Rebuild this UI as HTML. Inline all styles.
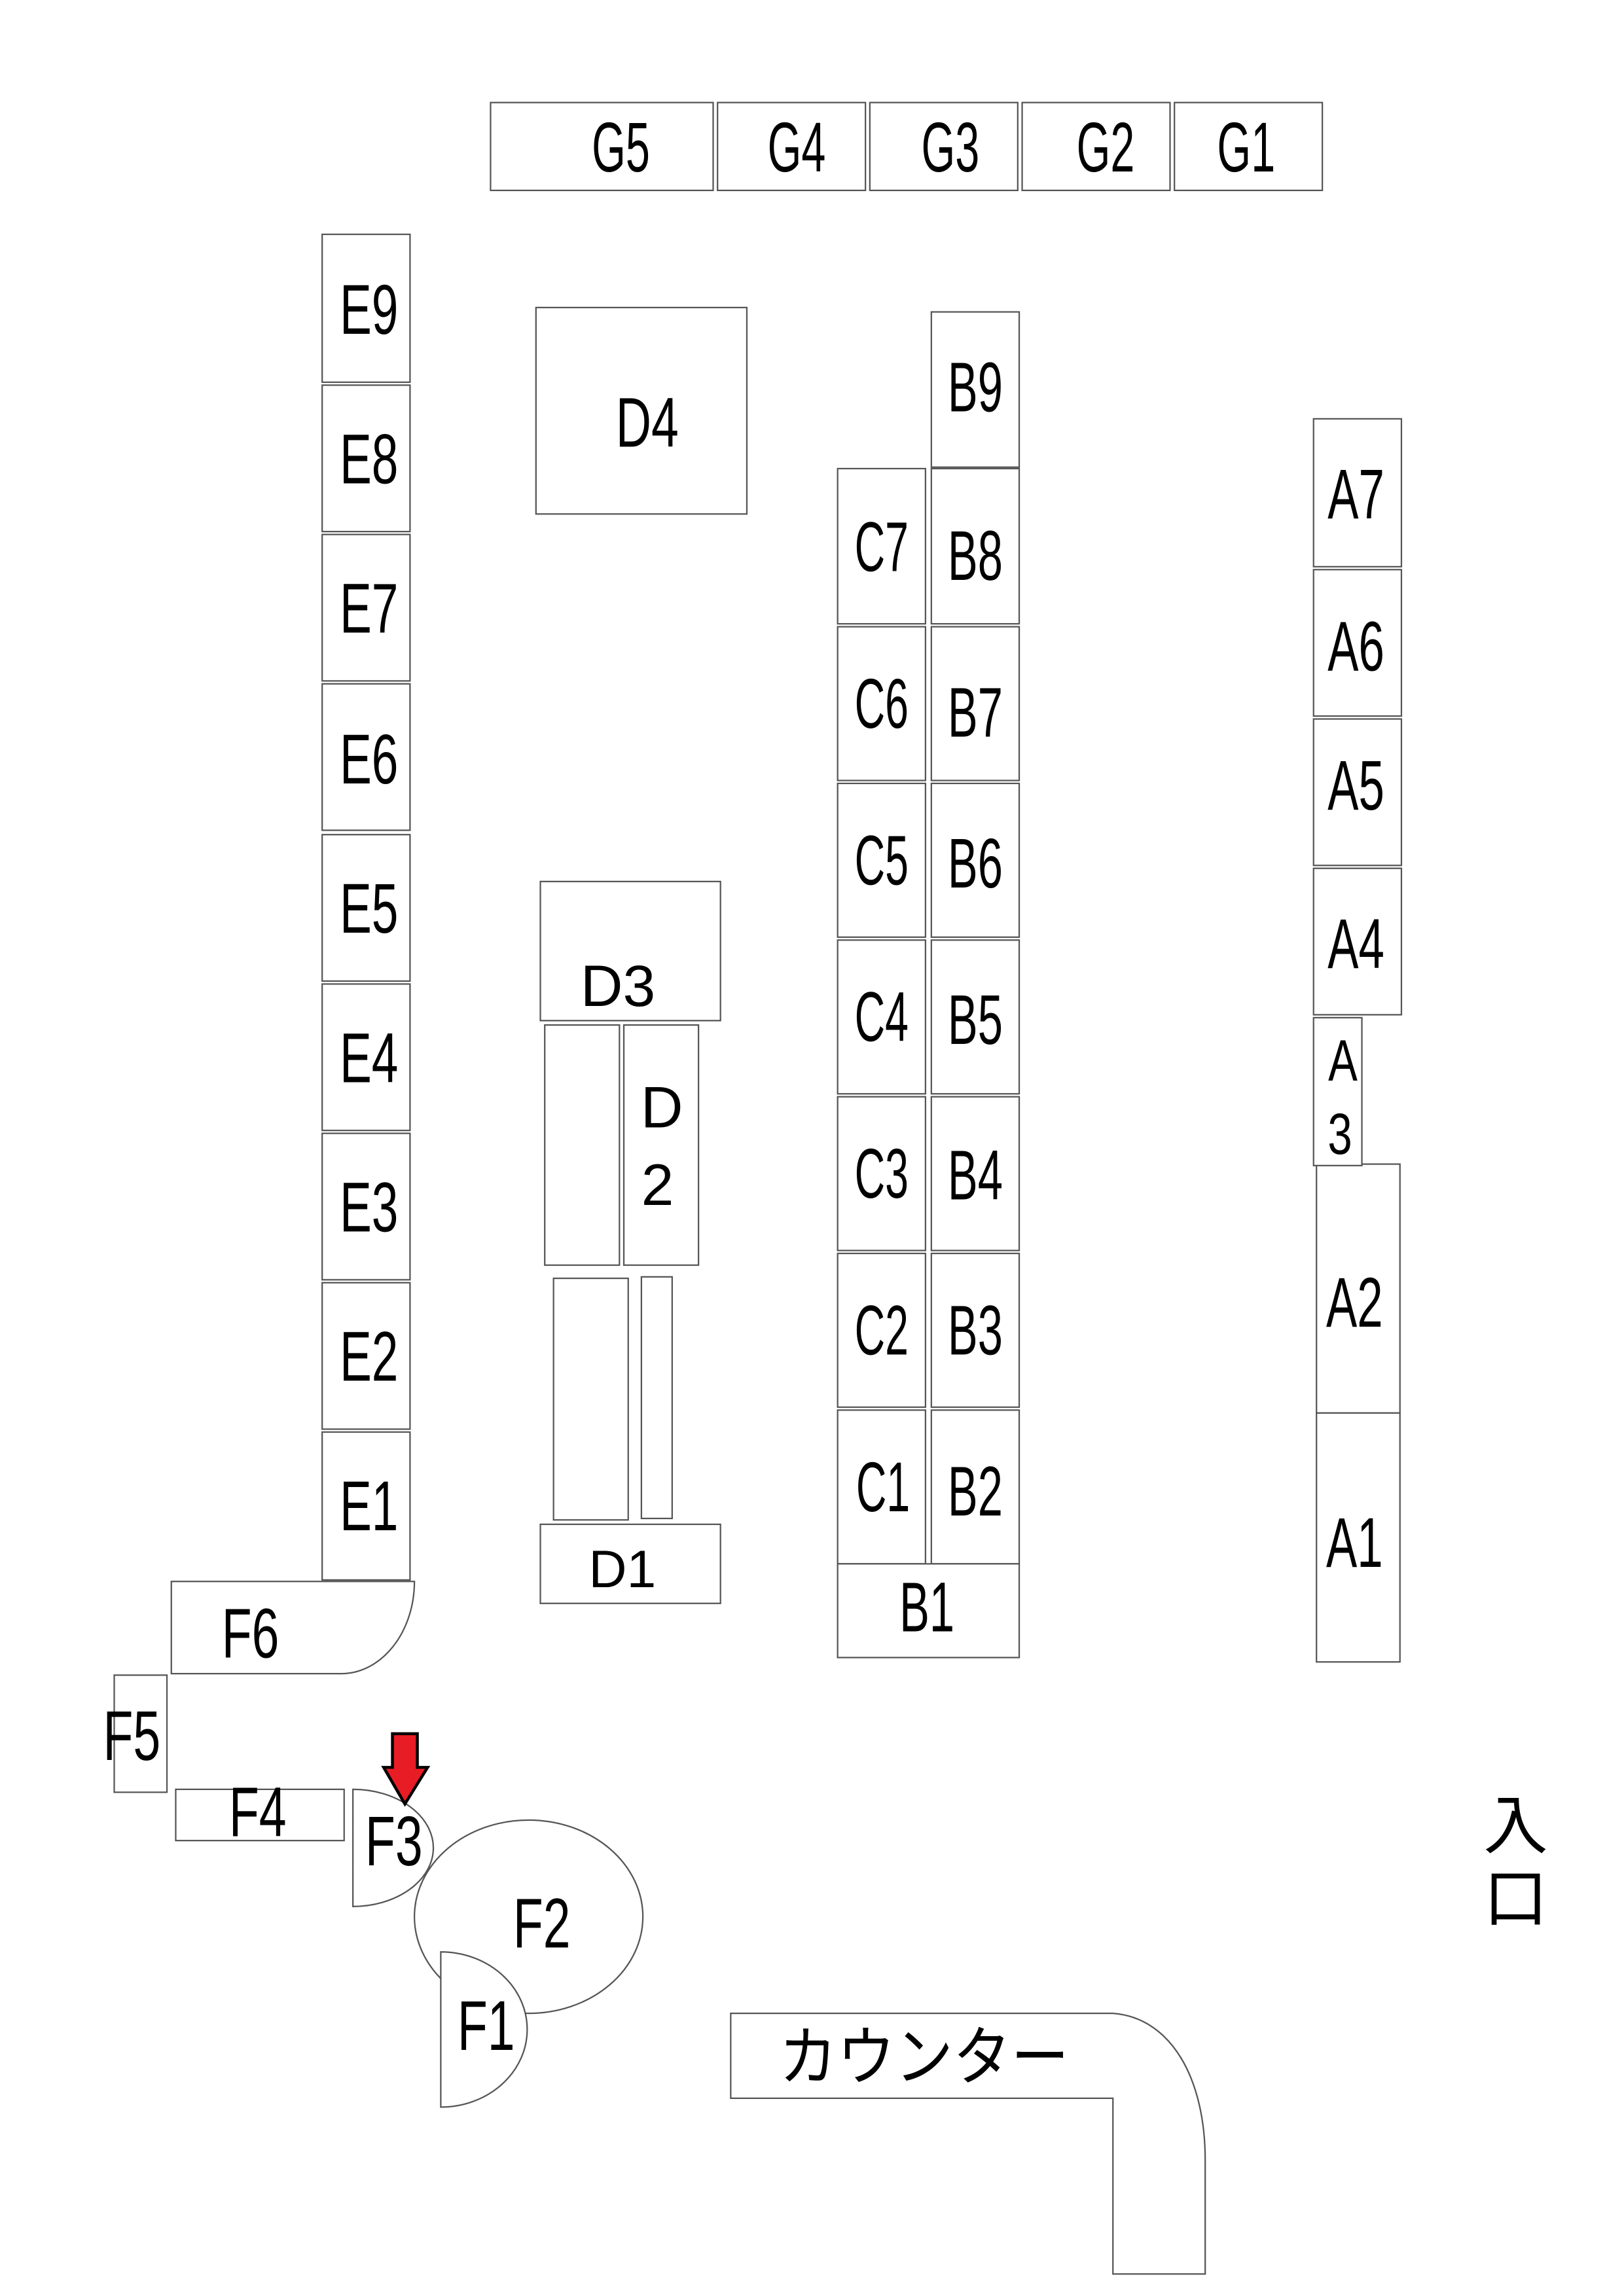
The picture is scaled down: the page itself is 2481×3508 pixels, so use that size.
<!DOCTYPE html>
<html><head><meta charset="utf-8"><style>
html,body{margin:0;padding:0;background:#fff;}
svg{display:block;}
text{font-family:"Liberation Sans","Noto Sans CJK JP",sans-serif;fill:#000;}
</style></head><body>
<svg width="2481" height="3508" viewBox="0 0 1109 1568" xmlns="http://www.w3.org/2000/svg">
<g fill="#fff" stroke="#555" stroke-width="1">
<rect x="335" y="70" width="152" height="60"/>
<rect x="490" y="70" width="101" height="60"/>
<rect x="594" y="70" width="101" height="60"/>
<rect x="698" y="70" width="101" height="60"/>
<rect x="802" y="70" width="101" height="60"/>
<rect x="220" y="160" width="60" height="101"/>
<rect x="220" y="263" width="60" height="100"/>
<rect x="220" y="365" width="60" height="100"/>
<rect x="220" y="467" width="60" height="100"/>
<rect x="220" y="570" width="60" height="100"/>
<rect x="220" y="672" width="60" height="100"/>
<rect x="220" y="774" width="60" height="100"/>
<rect x="220" y="876" width="60" height="100"/>
<rect x="220" y="978" width="60" height="101"/>
<rect x="366" y="210" width="144" height="141"/>
<rect x="369" y="602" width="123" height="95"/>
<rect x="372" y="700" width="51" height="164"/>
<rect x="426" y="700" width="51" height="164"/>
<rect x="378" y="873" width="51" height="165"/>
<rect x="438" y="872" width="21" height="165"/>
<rect x="369" y="1041" width="123" height="54"/>
<rect x="572" y="320" width="60" height="106"/>
<rect x="572" y="428" width="60" height="105"/>
<rect x="572" y="535" width="60" height="105"/>
<rect x="572" y="642" width="60" height="105"/>
<rect x="572" y="749" width="60" height="105"/>
<rect x="572" y="856" width="60" height="105"/>
<rect x="572" y="963" width="60" height="105"/>
<rect x="636" y="213" width="60" height="106"/>
<rect x="636" y="320" width="60" height="106"/>
<rect x="636" y="428" width="60" height="105"/>
<rect x="636" y="535" width="60" height="105"/>
<rect x="636" y="642" width="60" height="105"/>
<rect x="636" y="749" width="60" height="105"/>
<rect x="636" y="856" width="60" height="105"/>
<rect x="636" y="963" width="60" height="105"/>
<rect x="572" y="1068" width="124" height="64"/>
<rect x="897" y="286" width="60" height="101"/>
<rect x="897" y="389" width="60" height="100"/>
<rect x="897" y="491" width="60" height="100"/>
<rect x="897" y="593" width="60" height="100"/>
<rect x="899" y="795" width="57" height="170"/>
<rect x="899" y="965" width="57" height="170"/>
<rect x="897" y="695" width="33" height="101"/>
<path d="M117 1080 H283 A50 63 0 0 1 233 1143 H117 Z"/>
<rect x="78" y="1144" width="36" height="80"/>
<rect x="120" y="1222" width="115" height="35"/>
<path d="M241 1222 A55 40 0 0 1 241 1302 Z"/>
<ellipse cx="361" cy="1309" rx="78" ry="66"/>
<path d="M301 1333 A59 53 0 0 1 301 1439 Z"/>
<path d="M499 1375 H760 C800 1378 823 1420 823 1475 V1553 H760 V1433 H499 Z"/>
</g>
<path d="M268 1184 H285 V1207 H292 L276.5 1232 L262 1207 H268 Z" fill="#e81c24" stroke="#000" stroke-width="2"/>
<g font-size="48" text-anchor="middle">
<text transform="translate(424,117) scale(0.62,1)">G5</text>
<text transform="translate(544,117) scale(0.62,1)">G4</text>
<text transform="translate(649,117) scale(0.62,1)">G3</text>
<text transform="translate(755,117) scale(0.62,1)">G2</text>
<text transform="translate(851,117) scale(0.62,1)">G1</text>
<text transform="translate(252,228) scale(0.68,1)">E9</text>
<text transform="translate(252,330) scale(0.68,1)">E8</text>
<text transform="translate(252,432) scale(0.68,1)">E7</text>
<text transform="translate(252,535) scale(0.68,1)">E6</text>
<text transform="translate(252,637) scale(0.68,1)">E5</text>
<text transform="translate(252,739) scale(0.68,1)">E4</text>
<text transform="translate(252,841) scale(0.68,1)">E3</text>
<text transform="translate(252,943) scale(0.68,1)">E2</text>
<text transform="translate(252,1045) scale(0.68,1)">E1</text>
<text transform="translate(442,305) scale(0.7,1)">D4</text>
<text x="422" y="687" font-size="40">D3</text>
<text x="452" y="770" font-size="40">D</text>
<text x="449" y="823" font-size="40">2</text>
<text x="425" y="1084" font-size="36">D1</text>
<text transform="translate(602,390) scale(0.6,1)">C7</text>
<text transform="translate(602,497) scale(0.6,1)">C6</text>
<text transform="translate(602,604) scale(0.6,1)">C5</text>
<text transform="translate(602,711) scale(0.6,1)">C4</text>
<text transform="translate(602,818) scale(0.6,1)">C3</text>
<text transform="translate(602,925) scale(0.6,1)">C2</text>
<text transform="translate(603,1032) scale(0.6,1)">C1</text>
<text transform="translate(666,281) scale(0.64,1)">B9</text>
<text transform="translate(666,396) scale(0.64,1)">B8</text>
<text transform="translate(666,503) scale(0.64,1)">B7</text>
<text transform="translate(666,606) scale(0.64,1)">B6</text>
<text transform="translate(666,713) scale(0.64,1)">B5</text>
<text transform="translate(666,819) scale(0.64,1)">B4</text>
<text transform="translate(666,925) scale(0.64,1)">B3</text>
<text transform="translate(666,1035) scale(0.64,1)">B2</text>
<text transform="translate(633,1114) scale(0.64,1)">B1</text>
<text transform="translate(926,354) scale(0.66,1)">A7</text>
<text transform="translate(926,458) scale(0.66,1)">A6</text>
<text transform="translate(926,553) scale(0.66,1)">A5</text>
<text transform="translate(926,661) scale(0.66,1)">A4</text>
<text transform="translate(917,738) scale(0.75,1)" font-size="40">A</text>
<text transform="translate(915,788) scale(0.75,1)" font-size="40">3</text>
<text transform="translate(925,906) scale(0.66,1)">A2</text>
<text transform="translate(925,1070) scale(0.66,1)">A1</text>
<text transform="translate(171,1132) scale(0.7,1)">F6</text>
<text transform="translate(90,1202) scale(0.7,1)">F5</text>
<text transform="translate(176,1254) scale(0.7,1)">F4</text>
<text transform="translate(269,1274) scale(0.7,1)">F3</text>
<text transform="translate(370,1330) scale(0.7,1)">F2</text>
<text transform="translate(332,1400) scale(0.7,1)">F1</text>
</g>
<text font-size="44" transform="translate(532,1420) scale(0.9,1)">カウンター</text>
<text x="1013" y="1262" font-size="44">入</text>
<text x="1013" y="1312" font-size="44">口</text>
</svg>
</body></html>
